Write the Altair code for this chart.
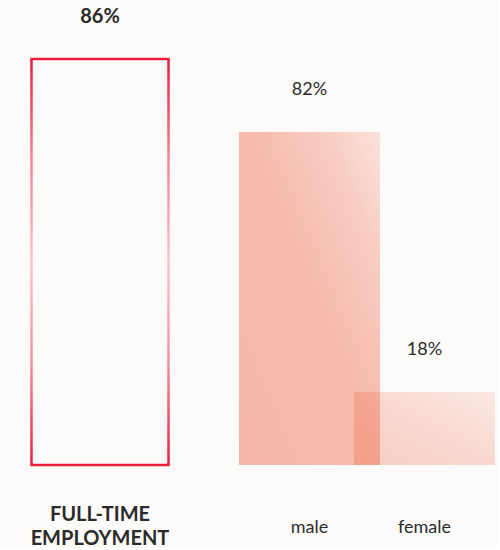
import altair as alt
import pandas as pd

# ---- data ----
total_categories = ["FULL-TIME EMPLOYMENT"]
total_values = [86]
gender_categories = ["male", "female"]
gender_values = [82, 18]

FONT = "Lato"
TEXT = "#2b2b2b"
BASE = "235,84,48"

left_df = pd.DataFrame({"category": total_categories, "value": total_values})
right_df = pd.DataFrame({"category": gender_categories, "value": gender_values})

stroke_grad = {
    "gradient": "linear", "x1": 0, "y1": 0, "x2": 0, "y2": 1,
    "stops": [
        {"offset": 0, "color": "#e91c3c"},
        {"offset": 0.25, "color": "#f68595"},
        {"offset": 0.5, "color": "#fcc4cc"},
        {"offset": 0.75, "color": "#f7909e"},
        {"offset": 1, "color": "#e91c3c"},
    ],
}

male_grad = {
    "gradient": "linear", "x1": 0, "y1": 1, "x2": 1, "y2": 0,
    "stops": [
        {"offset": 0, "color": f"rgba({BASE},0.41)"},
        {"offset": 0.55, "color": f"rgba({BASE},0.38)"},
        {"offset": 0.8, "color": f"rgba({BASE},0.28)"},
        {"offset": 1, "color": f"rgba({BASE},0.15)"},
    ],
}

female_grad = {
    "gradient": "linear", "x1": 0, "y1": 1, "x2": 1, "y2": 0,
    "stops": [
        {"offset": 0, "color": f"rgba({BASE},0.28)"},
        {"offset": 0.5, "color": f"rgba({BASE},0.21)"},
        {"offset": 1, "color": f"rgba({BASE},0.11)"},
    ],
}

H = 465

# ---- left panel ----
lx = alt.X(
    "category:N",
    scale=alt.Scale(paddingOuter=0.5),
    axis=alt.Axis(
        title=None, domain=False, ticks=False, labelAngle=0,
        labelFont=FONT, labelFontSize=20, labelFontWeight="bold",
        labelColor=TEXT, labelPadding=49, labelBaseline="middle",
        labelLineHeight=24, labelLimit=0,
        labelExpr="split(datum.label, ' ')",
    ),
)
ly = alt.Y("value:Q", scale=alt.Scale(domain=[0, 98.5]), axis=None)

left_base = alt.Chart(left_df).encode(x=lx, y=ly)
left_bar = left_base.mark_bar(
    width=137, fillOpacity=0, stroke=stroke_grad, strokeWidth=2.5
)
left_text = left_base.transform_calculate(
    label="datum.value + '%'"
).mark_text(
    dy=-42, baseline="middle", font=FONT, fontSize=20,
    fontWeight="bold", color=TEXT,
).encode(text="label:N")

left = alt.layer(left_bar, left_text).properties(width=200, height=H)

# ---- right panel ----
rx = alt.X(
    "category:N",
    sort=gender_categories,
    scale=alt.Scale(paddingInner=0, paddingOuter=0.139),
    axis=alt.Axis(
        title=None, domain=False, ticks=False, labelAngle=0,
        labelFont=FONT, labelFontSize=18, labelColor=TEXT,
        labelPadding=62, labelBaseline="middle",
    ),
)
ry = alt.Y("value:Q", scale=alt.Scale(domain=[0, 114.5]), axis=None)

right_base = alt.Chart(right_df).encode(x=rx, y=ry)
male_bar = right_base.transform_filter(
    alt.datum.category == "male"
).mark_bar(width=141, fill=male_grad)
female_bar = right_base.transform_filter(
    alt.datum.category == "female"
).mark_bar(width=141, fill=female_grad)
right_text = right_base.transform_calculate(
    label="datum.value + '%'"
).mark_text(
    dy=-42, baseline="middle", font=FONT, fontSize=18, color=TEXT,
).encode(text="label:N")

right = alt.layer(male_bar, female_bar, right_text).properties(width=262, height=H)

chart = alt.hconcat(left, right, spacing=36).properties(
    padding={"left": 0, "top": 0, "right": 0, "bottom": 0},
    background="#fdfbfa",
).configure_view(stroke=None)

chart.save("out.html", embed_options={"renderer": "svg", "actions": False})
